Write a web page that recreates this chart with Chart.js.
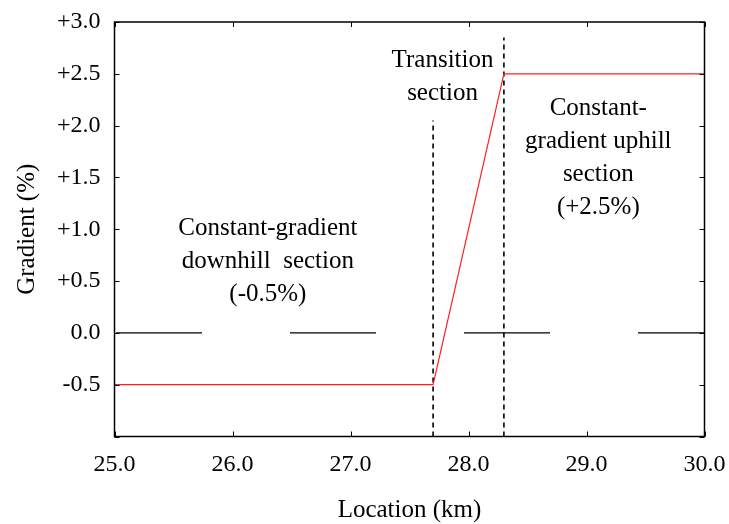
<!DOCTYPE html>
<html>
<head>
<meta charset="utf-8">
<script src="https://cdn.jsdelivr.net/npm/chart.js@4/dist/chart.umd.min.js"></script>
<style>
html,body{margin:0;padding:0;background:#fff;}
#wrap{width:729px;height:524px;position:relative;}
</style>
</head>
<body>
<div id="wrap"><canvas id="c" width="729" height="524"></canvas></div>
<script>
// Data
const locationKm = [25.0, 27.7, 28.3, 30.0];
const gradientPct = [-0.5, -0.5, 2.5, 2.5];
const zeroLineX = [25.0, 30.0];
const zeroLineY = [0, 0];
const transitionStart = 27.7;
const transitionEnd = 28.3;
const startMarkerTop = 2.05;
const endMarkerTop = 2.85;
const xTicks = [25, 26, 27, 28, 29, 30];
const yTicks = [-1.0, -0.5, 0.0, 0.5, 1.0, 1.5, 2.0, 2.5, 3.0];
const annotations = [
  {x: 26.30, y: 1.01, lines: ['Constant-gradient', 'downhill  section', '(-0.5%)']},
  {x: 27.78, y: 2.63, lines: ['Transition', 'section']},
  {x: 29.10, y: 2.17, lines: ['Constant-', 'gradient uphill', 'section', '(+2.5%)']}
];

const FONT = '"Liberation Serif", "Times New Roman", serif';

const boxPlugin = {
  id: 'boxPlugin',
  afterDatasetsDraw(chart) {
    const {ctx, chartArea: a, scales: {x, y}} = chart;
    ctx.save();
    ctx.strokeStyle = '#000';
    ctx.lineWidth = 1.5;
    ctx.strokeRect(a.left, a.top, a.right - a.left, a.bottom - a.top);
    ctx.lineWidth = 1;
    const L = 5;
    ctx.beginPath();
    xTicks.forEach(v => {
      const px = Math.round(x.getPixelForValue(v)) + 0.5;
      ctx.moveTo(px, a.bottom); ctx.lineTo(px, a.bottom - L);
      ctx.moveTo(px, a.top); ctx.lineTo(px, a.top + L);
    });
    yTicks.forEach(v => {
      const py = Math.round(y.getPixelForValue(v)) + 0.5;
      ctx.moveTo(a.left, py); ctx.lineTo(a.left + L, py);
      ctx.moveTo(a.right, py); ctx.lineTo(a.right - L, py);
    });
    ctx.stroke();
    ctx.fillStyle = '#000';
    ctx.font = '25px ' + FONT;
    ctx.textAlign = 'center';
    ctx.textBaseline = 'middle';
    annotations.forEach(an => {
      const cx = x.getPixelForValue(an.x);
      const cy = y.getPixelForValue(an.y);
      an.lines.forEach((t, i) => ctx.fillText(t, cx, cy + i * 33));
    });
    ctx.restore();
  }
};

new Chart(document.getElementById('c'), {
  type: 'line',
  data: {
    datasets: [
      {
        data: locationKm.map((v, i) => ({x: v, y: gradientPct[i]})),
        borderColor: '#ff2020', borderWidth: 1.2, pointRadius: 0, tension: 0
      },
      {
        data: zeroLineX.map((v, i) => ({x: v, y: zeroLineY[i]})),
        borderColor: '#000', borderWidth: 1.4, borderDash: [86, 88], borderDashOffset: -1.5, pointRadius: 0
      },
      {
        data: [{x: transitionStart, y: -1}, {x: transitionStart, y: startMarkerTop}],
        borderColor: '#000', borderWidth: 1.6, borderDash: [5, 4], pointRadius: 0
      },
      {
        data: [{x: transitionEnd, y: -1}, {x: transitionEnd, y: endMarkerTop}],
        borderColor: '#000', borderWidth: 1.6, borderDash: [5, 4], pointRadius: 0
      }
    ]
  },
  options: {
    responsive: false,
    animation: false,
    events: [],
    layout: {padding: {top: 22, right: 24.5, left: 0, bottom: 0}},
    plugins: {legend: {display: false}, tooltip: {enabled: false}},
    scales: {
      x: {
        type: 'linear', min: 25, max: 30,
        afterBuildTicks: s => { s.ticks = xTicks.map(v => ({value: v})); },
        afterFit: s => { s.height = 87.5; s.paddingLeft = 0; s.paddingRight = 0; },
        grid: {display: false, drawTicks: false}, border: {display: false},
        ticks: {color: '#000', font: {family: FONT, size: 24}, padding: 14,
          callback: v => Number(v).toFixed(1)},
        title: {display: true, text: 'Location (km)', color: '#000',
          font: {family: FONT, size: 25}, padding: {top: 10, bottom: -1}}
      },
      y: {
        type: 'linear', min: -1, max: 3,
        afterBuildTicks: s => { s.ticks = yTicks.map(v => ({value: v})); },
        afterFit: s => { s.width = 114.5; s.paddingTop = 0; s.paddingBottom = 0; },
        grid: {display: false, drawTicks: false}, border: {display: false},
        ticks: {color: '#000', font: {family: FONT, size: 24}, padding: 14,
          callback: v => v === -1 ? '' : (v > 0 ? '+' : '') + Number(v).toFixed(1)},
        title: {display: true, text: 'Gradient (%)', color: '#000',
          font: {family: FONT, size: 25}, padding: {top: 12, bottom: 0}}
      }
    }
  },
  plugins: [boxPlugin]
});
</script>
</body>
</html>
